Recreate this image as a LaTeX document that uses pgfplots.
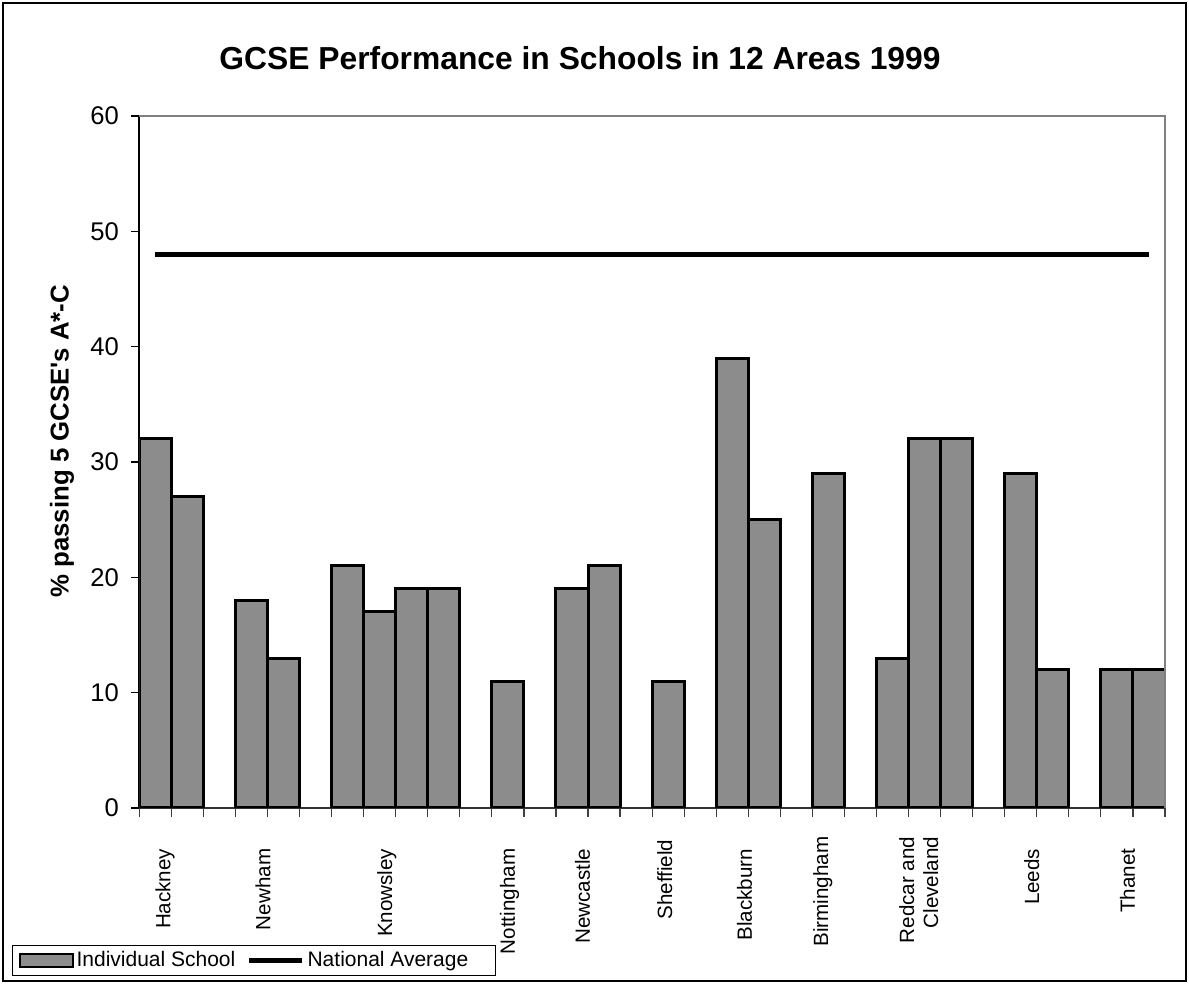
\documentclass[border=0pt]{standalone}
\usepackage{fontspec}
\setmainfont{Liberation Sans}
\usepackage{pgfplots}
\pgfplotsset{compat=1.18}
\definecolor{barfill}{RGB}{140,140,140}
\definecolor{plotgray}{RGB}{128,128,128}
\pgfplotsset{
    barlegend/.style={legend image code/.code={\draw[#1, line width=1pt] (0pt,-3.3pt) rectangle (26.5pt,3.3pt);}},
    linelegend/.style={legend image code/.code={\draw[#1] (0pt,0pt) -- (26.5pt,0pt);}},
}
\begin{document}
\begin{tikzpicture}
\useasboundingbox (0,0) rectangle (594.5pt,492pt);
\draw[line width=0.6pt] (1.5pt,1.5pt) rectangle (593pt,490.5pt);
\begin{axis}[
    at={(69.65pt,88pt)}, anchor=south west,
    scale only axis, width=512.85pt, height=346pt,
    xmin=0, xmax=32, ymin=0, ymax=60,
    clip mode=individual,
    axis x line*=bottom, axis y line*=left,
    x axis line style={-, black!80, line width=0.9pt},
    y axis line style={-, black, line width=0.85pt},
    tick align=outside,
    ytick={0,10,...,60},
    major tick length=4.2pt,
    minor tick length=4.3pt,
    major y tick style={black, line width=0.6pt},
    major x tick style={draw=none},
    minor x tick style={black!75, line width=0.6pt},
    xtick={0.80,3.86,7.72,11.55,13.83,16.39,18.88,21.32,24.40,27.84,30.83},
    minor xtick={0,1,...,32},
    xticklabels={Hackney,Newham,Knowsley,Nottingham,Newcastle,Sheffield\hspace*{-4.5pt},Blackburn,Birmingham\hspace*{-6pt},{\begin{tabular}{@{}r@{}}Redcar and\\Cleveland\end{tabular}\hspace*{-6pt}},Leeds,Thanet},
    xticklabel style={rotate=90, anchor=east, inner sep=0pt, font=\fontsize{10.3}{12}\selectfont},
    xticklabel shift=16pt,
    yticklabel style={anchor=east, inner sep=0pt, font=\fontsize{12.8}{15}\selectfont},
    yticklabel shift=5.8pt,
    /pgf/number format/assume math mode=true,
    ylabel={\% passing 5 GCSE\textquotesingle s A*-C},
    every axis y label/.style={at={(axis description cs:-0.0754,0.53)}, rotate=90, anchor=center, font=\bfseries\fontsize{12.9}{15}\selectfont},
    title={GCSE Performance in Schools in 12 Areas 1999},
    every axis title/.style={at={(axis description cs:0.4297,1.0838)}, anchor=center, font=\bfseries\fontsize{15.9}{19}\selectfont},
    legend columns=-1,
    legend style={at={(axis description cs:-0.1241,-0.198)}, anchor=north west,
        draw=black, line width=0.6pt, inner xsep=3pt, inner ysep=1.5pt,
        font=\fontsize{10.5}{12}\selectfont,
        nodes={inner xsep=1.5pt, inner ysep=1.5pt},
        /tikz/every even column/.append style={column sep=4pt}},
]
\addplot[ybar, bar width=1, fill=barfill, draw=black, line width=1.5pt, barlegend]
coordinates {
    (0.5,32) (1.5,27)
    (3.5,18) (4.5,13)
    (6.5,21) (7.5,17) (8.5,19) (9.5,19)
    (11.5,11)
    (13.5,19) (14.5,21)
    (16.5,11)
    (18.5,39) (19.5,25)
    (21.5,29)
    (23.5,13) (24.5,32) (25.5,32)
    (27.5,29) (28.5,12)
    (30.5,12) (31.5,12)
};
\addlegendentry{Individual School}
\addplot[black, line width=2.6pt, no marks, sharp plot, linelegend]
coordinates {(0.5,48) (31.5,48)};
\addlegendentry{National Average\hspace*{9pt}}
\draw[plotgray, line width=0.85pt] (rel axis cs:0,1) -- (rel axis cs:1,1) -- (rel axis cs:1,0);
\end{axis}
\end{tikzpicture}
\end{document}
